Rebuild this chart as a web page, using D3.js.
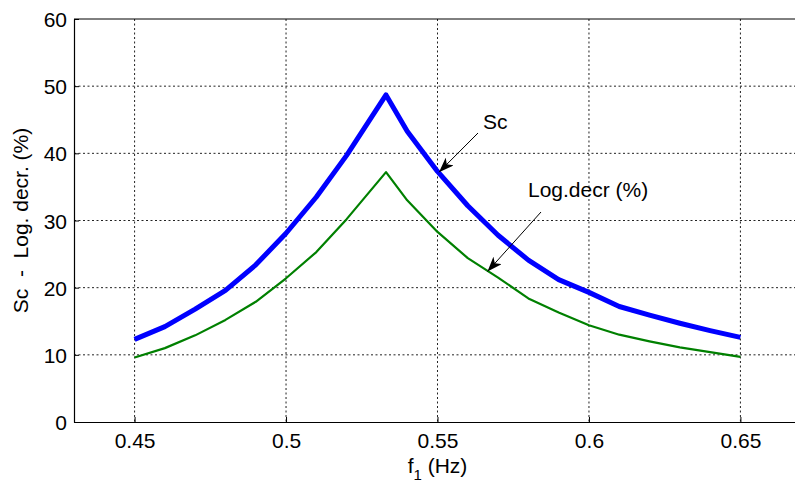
<!DOCTYPE html>
<html>
<head>
<meta charset="utf-8">
<script src="https://cdn.jsdelivr.net/npm/d3@7"></script>
<style>
  body { margin: 0; background: #fff; }
  text { font-family: "Liberation Sans", Arial, sans-serif; fill: #000; }
</style>
</head>
<body>
<div id="chart"></div>
<script>
// data
var freq   = [0.45, 0.46, 0.47, 0.48, 0.49, 0.50, 0.51, 0.52, 0.533, 0.54, 0.55, 0.56, 0.57, 0.58, 0.59, 0.60, 0.61, 0.62, 0.63, 0.64, 0.65];
var scVals = [12.3, 14.2, 16.8, 19.6, 23.4, 28.1, 33.5, 39.7, 48.7, 43.3, 37.3, 32.2, 27.8, 24.1, 21.2, 19.3, 17.2, 15.9, 14.7, 13.6, 12.6];
var ldVals = [9.6, 11.0, 12.9, 15.2, 17.9, 21.4, 25.3, 30.2, 37.2, 33.0, 28.3, 24.4, 21.5, 18.4, 16.3, 14.4, 13.0, 12.0, 11.1, 10.4, 9.7];
var xTicks = [0.45, 0.5, 0.55, 0.6, 0.65];
var yTicks = [0, 10, 20, 30, 40, 50, 60];

var svgWidth = 795, svgHeight = 485;
var margin = {top: 19, left: 74, bottom: 63};
var plotW = 727; // goes past the right edge of the window
var plotH = svgHeight - margin.top - margin.bottom;

var svg = d3.select("#chart").append("svg")
  .attr("width", svgWidth)
  .attr("height", svgHeight);

var g = svg.append("g")
  .attr("transform", `translate(${margin.left}, ${margin.top})`);

var x = d3.scaleLinear().domain([0.43, 0.67]).range([0, plotW]);
var y = d3.scaleLinear().domain([0, 60]).range([plotH, 0]);

// grid
g.selectAll(".gx").data(xTicks).enter().append("line")
  .attr("x1", d => x(d)).attr("x2", d => x(d))
  .attr("y1", 0).attr("y2", plotH)
  .attr("stroke", "#222").attr("stroke-width", 1)
  .attr("stroke-dasharray", "2,2.5");
g.selectAll(".gy").data(yTicks.slice(1, -1)).enter().append("line")
  .attr("x1", 0).attr("x2", plotW)
  .attr("y1", d => y(d)).attr("y2", d => y(d))
  .attr("stroke", "#222").attr("stroke-width", 1)
  .attr("stroke-dasharray", "2,2.5");

// axes (MATLAB style: ticks inside)
var xAxis = g.append("g")
  .attr("transform", `translate(0, ${plotH})`)
  .call(d3.axisBottom(x).tickValues(xTicks).tickSizeInner(-5).tickSizeOuter(0).tickPadding(11).tickFormat(d3.format("")));
var yAxis = g.append("g")
  .call(d3.axisLeft(y).tickValues(yTicks).tickSizeInner(-5).tickSizeOuter(0).tickPadding(7));
g.append("line").attr("x1", 0).attr("x2", plotW).attr("y1", 0).attr("y2", 0)
  .attr("stroke", "#000").attr("stroke-width", 1);

[xAxis, yAxis].forEach(function(a) {
  a.select(".domain").attr("stroke", "#000").attr("stroke-width", 1.2);
  a.selectAll(".tick line").attr("stroke", "#000");
  a.selectAll("text").style("font-size", "21px").attr("fill", "#000");
});
yAxis.selectAll("text").attr("dy", "0.36em");

// lines
var lineSc = d3.line().x((d, i) => x(freq[i])).y(d => y(d));
g.append("path").datum(ldVals)
  .attr("d", lineSc)
  .attr("fill", "none").attr("stroke", "#008000").attr("stroke-width", 2.2)
  .attr("stroke-linejoin", "round");
g.append("path").datum(scVals)
  .attr("d", lineSc)
  .attr("fill", "none").attr("stroke", "#0000ff").attr("stroke-width", 5)
  .attr("stroke-linejoin", "round");

// annotations
var defs = svg.append("defs");
defs.append("marker").attr("id", "arr")
  .attr("viewBox", "0 0 15 11").attr("refX", 15).attr("refY", 5.5)
  .attr("markerWidth", 15).attr("markerHeight", 11)
  .attr("markerUnits", "userSpaceOnUse").attr("orient", "auto")
  .append("path").attr("d", "M0,0 L15,5.5 L0,11 L4,5.5 Z").attr("fill", "#000");

function annotate(label, tx, ty, fx, fy, px, py) {
  g.append("text").attr("x", tx).attr("y", ty).style("font-size", "21px").text(label);
  g.append("line")
    .attr("x1", fx).attr("y1", fy)
    .attr("x2", px).attr("y2", py)
    .attr("stroke", "#000").attr("stroke-width", 1)
    .attr("marker-end", "url(#arr)");
}
annotate("Sc", 483 - margin.left, 129 - margin.top, 478 - margin.left, 133 - margin.top, x(0.5505), y(37.2));
annotate("Log.decr (%)", 528 - margin.left, 197 - margin.top, 541 - margin.left, 212 - margin.top, x(0.5665), y(22.4));

// axis labels
g.append("text")
  .attr("transform", `translate(${-46}, ${plotH / 2}) rotate(-90)`)
  .attr("text-anchor", "middle")
  .style("font-size", "21px")
  .style("white-space", "pre")
  .text("Sc  -  Log. decr. (%)");

var xl = g.append("text")
  .attr("x", (x(0.43) + x(0.67)) / 2)
  .attr("y", plotH + 51)
  .attr("text-anchor", "middle")
  .style("font-size", "21px");
xl.append("tspan").text("f");
xl.append("tspan").attr("dy", 7).style("font-size", "15px").text("1");
xl.append("tspan").attr("dy", -7).text(" (Hz)");
</script>
</body>
</html>
